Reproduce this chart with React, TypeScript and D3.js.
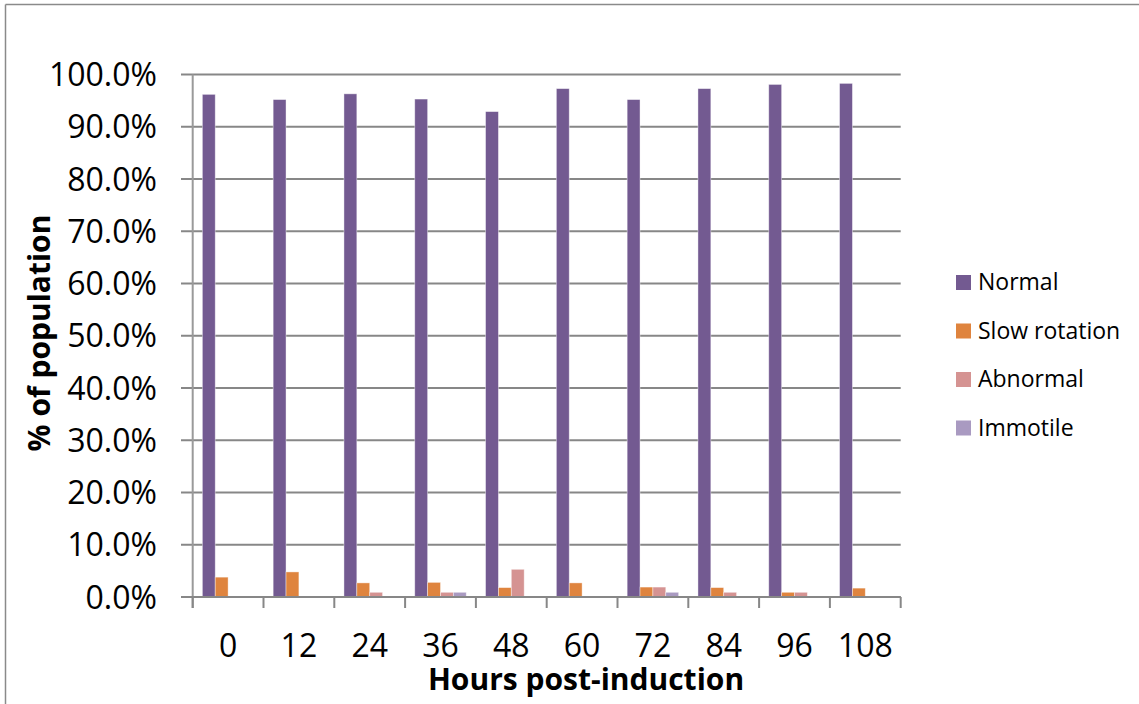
import React from "react";
import * as d3 from "d3";

const categories = ["0", "12", "24", "36", "48", "60", "72", "84", "96", "108"];
const seriesNames = ["Normal", "Slow rotation", "Abnormal", "Immotile"];
const normal = [96.2, 95.2, 96.3, 95.3, 92.9, 97.3, 95.2, 97.3, 98.1, 98.3];
const slowRotation = [3.8, 4.8, 2.7, 2.8, 1.8, 2.7, 1.9, 1.8, 0.9, 1.7];
const abnormal = [0, 0, 0.9, 0.9, 5.3, 0, 1.9, 0.9, 0.9, 0];
const immotile = [0, 0, 0, 0.9, 0, 0, 0.9, 0, 0, 0];
const yTicks = [0, 10, 20, 30, 40, 50, 60, 70, 80, 90, 100];
const colors = ["#735a91", "#df843e", "#d59392", "#a99ac1"];

const W = 1139;
const H = 704;
const FONT = "'Open Sans', 'Liberation Sans', sans-serif";

export default function App() {
  const seriesValues = [normal, slowRotation, abnormal, immotile];
  const left = 192.7;
  const right = 900.7;
  const top = 74.5;
  const bottom = 597;

  const x = d3.scaleBand<string>().domain(categories).range([left, right]).padding(0);
  const step = x.step();
  const barW = step / 5.5;
  const inner = d3
    .scaleBand<string>()
    .domain(seriesNames)
    .range([barW * 0.75, step - barW * 0.75])
    .padding(0);
  const y = d3.scaleLinear().domain([0, 100]).range([bottom, top]);
  const fmt = (v: number) => d3.format(".1f")(v) + "%";
  const grid = "#878787";

  const boundaries = categories.map((c) => x(c) as number).concat([right]);

  return (
    <svg
      width={W}
      height={H}
      style={{ position: "absolute", left: 0, top: 0, background: "#fff" }}
      fontFamily={FONT}
    >
      <rect x={0} y={0} width={W} height={H} fill="#fff" />
      {/* outer chart border */}
      <line x1={5.5} x2={W + 5} y1={4.5} y2={4.5} stroke="#8a8a8a" strokeWidth={1.5} />
      <line x1={5.5} x2={5.5} y1={4.5} y2={H + 5} stroke="#8a8a8a" strokeWidth={1.5} />

      {/* gridlines + y ticks */}
      {yTicks.map((t) => (
        <g key={t}>
          <line x1={181} x2={right} y1={y(t)} y2={y(t)} stroke={grid} strokeWidth={2} />
          <text
            x={157}
            y={y(t) + 11.5}
            textAnchor="end"
            fontSize={32}
            fill="#000"
          >
            {fmt(t)}
          </text>
        </g>
      ))}

      {/* y axis line */}
      <line x1={left} x2={left} y1={top} y2={bottom + 11} stroke="#9a9a9a" strokeWidth={2} />
      {/* x ticks */}
      {boundaries.map((b, i) => (
        <line key={i} x1={b} x2={b} y1={bottom} y2={bottom + 11} stroke={grid} strokeWidth={2} />
      ))}

      {/* bars */}
      {categories.map((c, ci) => (
        <g key={c} transform={`translate(${x(c)},0)`}>
          {seriesNames.map((s, si) => {
            const v = seriesValues[si][ci];
            if (v <= 0) return null;
            return (
              <rect
                key={s}
                x={inner(s)}
                y={y(v)}
                width={inner.bandwidth()}
                height={bottom - y(v)}
                fill={colors[si]}
                stroke="rgba(255,255,255,0.5)"
                strokeWidth={0.8}
              />
            );
          })}
        </g>
      ))}

      {/* x axis baseline */}
      <line x1={181} x2={right} y1={bottom} y2={bottom} stroke={grid} strokeWidth={2} />

      {/* x tick labels */}
      {categories.map((c) => (
        <text
          key={c}
          x={(x(c) as number) + step / 2}
          y={657}
          textAnchor="middle"
          fontSize={32}
          fill="#000"
        >
          {c}
        </text>
      ))}

      {/* axis titles */}
      <text x={586} y={690} textAnchor="middle" fontSize={30} fontWeight="bold" fill="#000">
        Hours post-induction
      </text>
      <text
        transform={`translate(50,333) rotate(-90)`}
        textAnchor="middle"
        fontSize={30}
        fontWeight="bold"
        fill="#000"
      >
        % of population
      </text>

      {/* legend */}
      {seriesNames.map((s, i) => {
        const ly = 275 + i * 48.5;
        return (
          <g key={s}>
            <rect x={956} y={ly} width={15} height={15} fill={colors[i]} />
            <text x={978} y={ly + 15} fontSize={23} fill="#000">
              {s}
            </text>
          </g>
        );
      })}
    </svg>
  );
}
